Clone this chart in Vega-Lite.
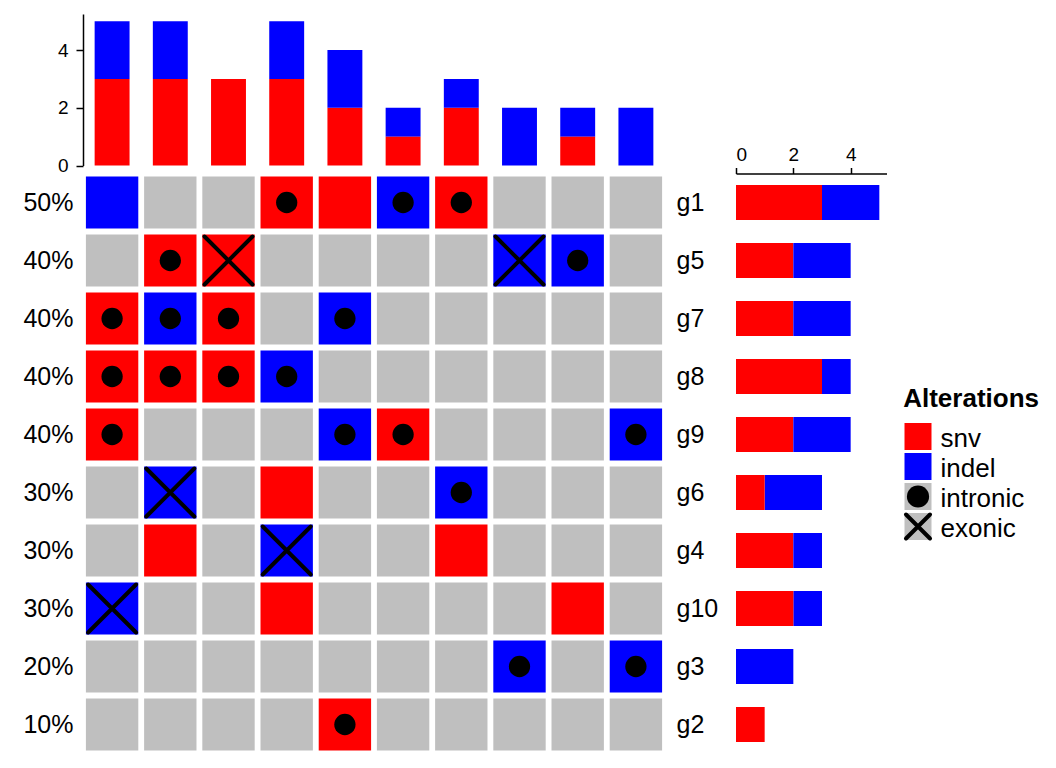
{
  "$schema": "https://vega.github.io/schema/vega-lite/v6.json",
  "padding": {"left": 22, "top": 14, "right": 5, "bottom": 5},
  "config": {
    "view": {"stroke": null},
    "font": "Liberation Sans",
    "axis": {"grid": false, "domainColor": "black", "tickColor": "black", "labelColor": "black", "domainWidth": 1.5, "tickWidth": 1.5}
  },
  "datasets": {
    "genes": [
      {"g": "g1", "pct": "50%"}, {"g": "g5", "pct": "40%"}, {"g": "g7", "pct": "40%"}, {"g": "g8", "pct": "40%"}, {"g": "g9", "pct": "40%"},
      {"g": "g6", "pct": "30%"}, {"g": "g4", "pct": "30%"}, {"g": "g10", "pct": "30%"}, {"g": "g3", "pct": "20%"}, {"g": "g2", "pct": "10%"}
    ],
    "cells": [
      {"g": "g1", "s": 1, "a": "indel"}, {"g": "g1", "s": 2, "a": "none"}, {"g": "g1", "s": 3, "a": "none"}, {"g": "g1", "s": 4, "a": "snv", "m": "intronic"}, {"g": "g1", "s": 5, "a": "snv"},
      {"g": "g1", "s": 6, "a": "indel", "m": "intronic"}, {"g": "g1", "s": 7, "a": "snv", "m": "intronic"}, {"g": "g1", "s": 8, "a": "none"}, {"g": "g1", "s": 9, "a": "none"}, {"g": "g1", "s": 10, "a": "none"},
      {"g": "g5", "s": 1, "a": "none"}, {"g": "g5", "s": 2, "a": "snv", "m": "intronic"}, {"g": "g5", "s": 3, "a": "snv", "m": "exonic"}, {"g": "g5", "s": 4, "a": "none"}, {"g": "g5", "s": 5, "a": "none"},
      {"g": "g5", "s": 6, "a": "none"}, {"g": "g5", "s": 7, "a": "none"}, {"g": "g5", "s": 8, "a": "indel", "m": "exonic"}, {"g": "g5", "s": 9, "a": "indel", "m": "intronic"}, {"g": "g5", "s": 10, "a": "none"},
      {"g": "g7", "s": 1, "a": "snv", "m": "intronic"}, {"g": "g7", "s": 2, "a": "indel", "m": "intronic"}, {"g": "g7", "s": 3, "a": "snv", "m": "intronic"}, {"g": "g7", "s": 4, "a": "none"}, {"g": "g7", "s": 5, "a": "indel", "m": "intronic"},
      {"g": "g7", "s": 6, "a": "none"}, {"g": "g7", "s": 7, "a": "none"}, {"g": "g7", "s": 8, "a": "none"}, {"g": "g7", "s": 9, "a": "none"}, {"g": "g7", "s": 10, "a": "none"},
      {"g": "g8", "s": 1, "a": "snv", "m": "intronic"}, {"g": "g8", "s": 2, "a": "snv", "m": "intronic"}, {"g": "g8", "s": 3, "a": "snv", "m": "intronic"}, {"g": "g8", "s": 4, "a": "indel", "m": "intronic"}, {"g": "g8", "s": 5, "a": "none"},
      {"g": "g8", "s": 6, "a": "none"}, {"g": "g8", "s": 7, "a": "none"}, {"g": "g8", "s": 8, "a": "none"}, {"g": "g8", "s": 9, "a": "none"}, {"g": "g8", "s": 10, "a": "none"},
      {"g": "g9", "s": 1, "a": "snv", "m": "intronic"}, {"g": "g9", "s": 2, "a": "none"}, {"g": "g9", "s": 3, "a": "none"}, {"g": "g9", "s": 4, "a": "none"}, {"g": "g9", "s": 5, "a": "indel", "m": "intronic"},
      {"g": "g9", "s": 6, "a": "snv", "m": "intronic"}, {"g": "g9", "s": 7, "a": "none"}, {"g": "g9", "s": 8, "a": "none"}, {"g": "g9", "s": 9, "a": "none"}, {"g": "g9", "s": 10, "a": "indel", "m": "intronic"},
      {"g": "g6", "s": 1, "a": "none"}, {"g": "g6", "s": 2, "a": "indel", "m": "exonic"}, {"g": "g6", "s": 3, "a": "none"}, {"g": "g6", "s": 4, "a": "snv"}, {"g": "g6", "s": 5, "a": "none"},
      {"g": "g6", "s": 6, "a": "none"}, {"g": "g6", "s": 7, "a": "indel", "m": "intronic"}, {"g": "g6", "s": 8, "a": "none"}, {"g": "g6", "s": 9, "a": "none"}, {"g": "g6", "s": 10, "a": "none"},
      {"g": "g4", "s": 1, "a": "none"}, {"g": "g4", "s": 2, "a": "snv"}, {"g": "g4", "s": 3, "a": "none"}, {"g": "g4", "s": 4, "a": "indel", "m": "exonic"}, {"g": "g4", "s": 5, "a": "none"},
      {"g": "g4", "s": 6, "a": "none"}, {"g": "g4", "s": 7, "a": "snv"}, {"g": "g4", "s": 8, "a": "none"}, {"g": "g4", "s": 9, "a": "none"}, {"g": "g4", "s": 10, "a": "none"},
      {"g": "g10", "s": 1, "a": "indel", "m": "exonic"}, {"g": "g10", "s": 2, "a": "none"}, {"g": "g10", "s": 3, "a": "none"}, {"g": "g10", "s": 4, "a": "snv"}, {"g": "g10", "s": 5, "a": "none"},
      {"g": "g10", "s": 6, "a": "none"}, {"g": "g10", "s": 7, "a": "none"}, {"g": "g10", "s": 8, "a": "none"}, {"g": "g10", "s": 9, "a": "snv"}, {"g": "g10", "s": 10, "a": "none"},
      {"g": "g3", "s": 1, "a": "none"}, {"g": "g3", "s": 2, "a": "none"}, {"g": "g3", "s": 3, "a": "none"}, {"g": "g3", "s": 4, "a": "none"}, {"g": "g3", "s": 5, "a": "none"},
      {"g": "g3", "s": 6, "a": "none"}, {"g": "g3", "s": 7, "a": "none"}, {"g": "g3", "s": 8, "a": "indel", "m": "intronic"}, {"g": "g3", "s": 9, "a": "none"}, {"g": "g3", "s": 10, "a": "indel", "m": "intronic"},
      {"g": "g2", "s": 1, "a": "none"}, {"g": "g2", "s": 2, "a": "none"}, {"g": "g2", "s": 3, "a": "none"}, {"g": "g2", "s": 4, "a": "none"}, {"g": "g2", "s": 5, "a": "snv", "m": "intronic"},
      {"g": "g2", "s": 6, "a": "none"}, {"g": "g2", "s": 7, "a": "none"}, {"g": "g2", "s": 8, "a": "none"}, {"g": "g2", "s": 9, "a": "none"}, {"g": "g2", "s": 10, "a": "none"}
    ]
  },
  "columns": 4,
  "bounds": "flush",
  "align": "each",
  "spacing": {"row": 7.5, "column": 17.5},
  "resolve": {"scale": {"color": "independent"}},
  "concat": [
    {
      "width": 582,
      "height": 151.5,
      "data": {"name": "cells"},
      "transform": [
        {"filter": "datum.a !== 'none'"},
        {"calculate": "datum.a === 'snv' ? 0 : 1", "as": "o"}
      ],
      "mark": "bar",
      "encoding": {
        "x": {"field": "s", "type": "ordinal", "scale": {"paddingInner": 0.4, "paddingOuter": 0.2}, "axis": null},
        "y": {"aggregate": "count", "type": "quantitative", "scale": {"domain": [0, 5.25], "nice": false},
              "axis": {"values": [0, 2, 4], "title": null, "tickSize": 7, "labelPadding": 8, "labelFontSize": 19}},
        "color": {"field": "a", "type": "nominal", "scale": {"domain": ["snv", "indel"], "range": ["#FF0000", "#0000FF"]}, "legend": null},
        "order": {"field": "o"}
      }
    },
    {"width": 1, "height": 1, "data": {"values": []}, "mark": "point"},
    {"width": 1, "height": 1, "data": {"values": []}, "mark": "point"},
    {"width": 1, "height": 1, "data": {"values": []}, "mark": "point"},
    {
      "width": 582,
      "height": 580,
      "data": {"name": "cells"},
      "transform": [
        {"lookup": "g", "from": {"data": {"name": "genes"}, "key": "g", "fields": ["pct"]}},
        {"calculate": "datum.pct + ' ' + datum.g", "as": "lab"}
      ],
      "encoding": {
        "x": {"field": "s", "type": "ordinal", "scale": {"type": "band", "paddingInner": 0.1, "paddingOuter": 0.05}, "axis": null},
        "y": {"field": "lab", "type": "nominal",
              "sort": ["50% g1", "40% g5", "40% g7", "40% g8", "40% g9", "30% g6", "30% g4", "30% g10", "20% g3", "10% g2"],
              "scale": {"type": "band", "paddingInner": 0.1, "paddingOuter": 0.05},
              "axis": {"title": null, "labelExpr": "split(datum.label, ' ')[0]", "ticks": false, "tickSize": 0, "domain": false, "labelPadding": 10, "labelFontSize": 25}}
      },
      "layer": [
        {"mark": "rect",
         "encoding": {"color": {"field": "a", "type": "nominal", "scale": {"domain": ["snv", "indel", "none"], "range": ["#FF0000", "#0000FF", "#BFBFBF"]}, "legend": null}}},
        {"transform": [{"filter": "datum.m === 'intronic'"}],
         "mark": {"type": "point", "shape": "circle", "filled": true, "color": "black", "size": 452, "opacity": 1}},
        {"transform": [{"filter": "datum.m === 'exonic'"}],
         "mark": {"type": "point", "shape": "M-1,-1L1,1M-1,1L1,-1", "filled": false, "color": "black", "size": 2304, "strokeWidth": 4, "strokeCap": "round", "opacity": 1}}
      ]
    },
    {"width": 35.8, "height": 1, "data": {"values": []}, "mark": "point"},
    {
      "width": 150.5,
      "height": 580,
      "data": {"name": "cells"},
      "transform": [
        {"filter": "datum.a !== 'none'"},
        {"calculate": "datum.a === 'snv' ? 0 : 1", "as": "o"}
      ],
      "mark": "bar",
      "encoding": {
        "y": {"field": "g", "type": "nominal", "sort": ["g1", "g5", "g7", "g8", "g9", "g6", "g4", "g10", "g3", "g2"],
              "scale": {"paddingInner": 0.4, "paddingOuter": 0.2},
              "axis": {"title": null, "ticks": false, "tickSize": 0, "domain": false, "labelAlign": "left", "labelPadding": 60, "labelFontSize": 25}},
        "x": {"aggregate": "count", "type": "quantitative", "scale": {"domain": [0, 5.25], "nice": false},
              "axis": {"orient": "top", "values": [0, 2, 4], "title": null, "tickSize": 6, "labelPadding": 3, "labelFontSize": 19}},
        "color": {"field": "a", "type": "nominal", "scale": {"domain": ["snv", "indel"], "range": ["#FF0000", "#0000FF"]}, "legend": null},
        "order": {"field": "o"}
      }
    },
    {
      "width": 27,
      "height": 580,
      "data": {"values": [{"k": "snv"}, {"k": "indel"}, {"k": "intronic"}, {"k": "exonic"}]},
      "layer": [
        {"mark": {"type": "square", "size": 729, "opacity": 1},
         "encoding": {
           "y": {"field": "k", "type": "nominal", "sort": ["snv", "indel", "intronic", "exonic"],
                 "scale": {"type": "band", "paddingInner": 0, "paddingOuter": 0, "range": [248, 368]}, "axis": null},
           "color": {"field": "k", "type": "nominal", "scale": {"domain": ["snv", "indel", "intronic", "exonic"], "range": ["#FF0000", "#0000FF", "#BFBFBF", "#BFBFBF"]}, "legend": null}
         }},
        {"transform": [{"filter": "datum.k === 'intronic'"}],
         "mark": {"type": "point", "shape": "circle", "filled": true, "color": "black", "size": 491, "opacity": 1},
         "encoding": {"y": {"field": "k", "type": "nominal", "sort": ["snv", "indel", "intronic", "exonic"]}}},
        {"transform": [{"filter": "datum.k === 'exonic'"}],
         "mark": {"type": "point", "shape": "M-1,-1L1,1M-1,1L1,-1", "filled": false, "color": "black", "size": 576, "strokeWidth": 4, "strokeCap": "round", "opacity": 1},
         "encoding": {"y": {"field": "k", "type": "nominal", "sort": ["snv", "indel", "intronic", "exonic"]}}},
        {"mark": {"type": "text", "align": "left", "baseline": "alphabetic", "dx": 22.5, "dy": 10.5, "fontSize": 26, "color": "black"},
         "encoding": {"y": {"field": "k", "type": "nominal", "sort": ["snv", "indel", "intronic", "exonic"]}, "text": {"field": "k"}}},
        {"data": {"values": [{"k": "snv", "t": "Alterations"}]},
         "mark": {"type": "text", "align": "left", "baseline": "alphabetic", "dx": -14.8, "dy": -30, "fontSize": 26, "fontWeight": "bold", "color": "black"},
         "encoding": {"y": {"field": "k", "type": "nominal", "sort": ["snv", "indel", "intronic", "exonic"]}, "text": {"field": "t"}}}
      ]
    }
  ]
}
